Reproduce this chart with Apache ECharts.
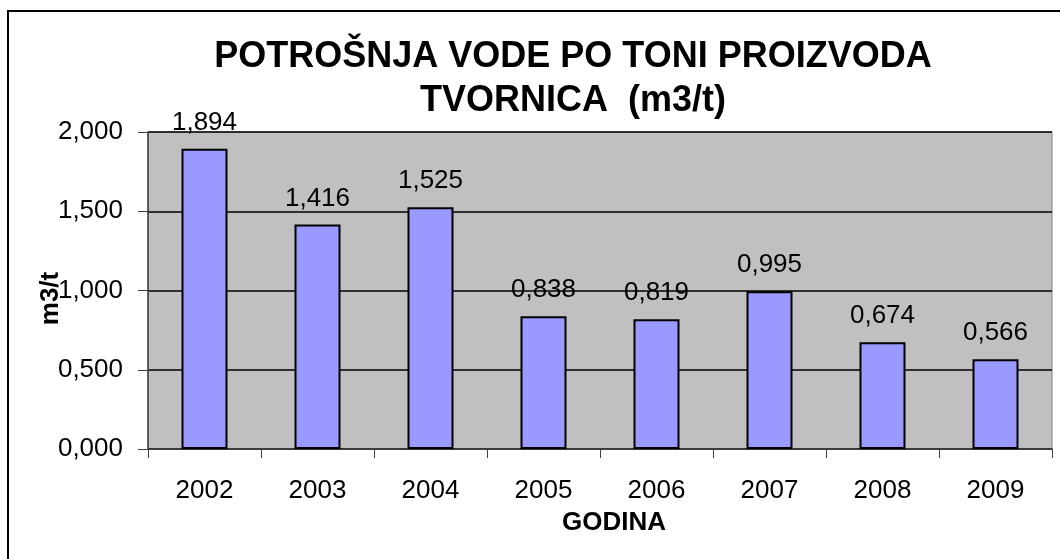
<!DOCTYPE html>
<html>
<head>
<meta charset="utf-8">
<script src="https://cdn.jsdelivr.net/npm/echarts@6/dist/echarts.min.js"></script>
<style>
  html, body { margin: 0; padding: 0; background: #fff; }
  #chart { width: 1060px; height: 559px; }
</style>
</head>
<body>
<div id="chart"></div>
<script>
// podaci
const godine = ['2002', '2003', '2004', '2005', '2006', '2007', '2008', '2009']
const potrosnja = [1.894, 1.416, 1.525, 0.838, 0.819, 0.995, 0.674, 0.566]

// decimalni zarez
const fmt = v => Number(v).toFixed(3).replace('.', ',')

const chart = echarts.init(document.getElementById('chart'))

chart.setOption({
  animation: false,
  textStyle: {fontFamily: '"Liberation Sans", Arial, sans-serif'},
  title: {
    text: 'POTROŠNJA VODE PO TONI PROIZVODA\nTVORNICA  (m3/t)',
    left: 568,
    textAlign: 'center',
    top: 30,
    textStyle: {fontSize: 36, fontWeight: 'bold', color: '#000', lineHeight: 44}
  },
  // okvir grafikona
  graphic: [{
    type: 'rect',
    shape: {x: 8, y: 11, width: 1200, height: 700},
    style: {fill: 'none', stroke: '#000', lineWidth: 2},
    silent: true
  }],
  grid: {
    left: 148, right: 8, top: 132, bottom: 110,
    show: true,
    backgroundColor: '#c0c0c0',
    borderColor: '#808080',
    borderWidth: 1
  },
  xAxis: {
    type: 'category',
    data: godine,
    name: 'GODINA',
    nameLocation: 'middle',
    nameGap: 61,
    nameMoveOverlap: false,
    nameTextStyle: {fontSize: 26, fontWeight: 'bold', color: '#000', padding: [0, 0, 0, 28]},
    axisLine: {lineStyle: {color: '#404040', width: 1.5}},
    axisTick: {show: true, length: 9, lineStyle: {color: '#404040'}},
    axisLabel: {fontSize: 26, color: '#000', margin: 29}
  },
  yAxis: {
    type: 'value',
    min: 0,
    max: 2,
    interval: 0.5,
    name: 'm3/t',
    nameLocation: 'middle',
    nameGap: 84,
    nameRotate: 90,
    nameMoveOverlap: false,
    nameTextStyle: {fontSize: 26, fontWeight: 'bold', color: '#000', padding: [0, 16, 0, 0]},
    axisLine: {show: true, lineStyle: {color: '#404040', width: 1.5}},
    axisTick: {show: true, length: 10, lineStyle: {color: '#404040'}},
    axisLabel: {fontSize: 26, color: '#000', margin: 25, formatter: fmt},
    splitLine: {lineStyle: {color: '#000', width: 1.5}}
  },
  series: [{
    type: 'bar',
    data: potrosnja,
    barWidth: 46,
    itemStyle: {color: '#9999ff', borderColor: '#000', borderWidth: 2},
    label: {
      show: true,
      position: 'top',
      distance: 13,
      fontSize: 26,
      color: '#000',
      formatter: p => fmt(p.value)
    }
  }]
})
</script>
</body>
</html>
